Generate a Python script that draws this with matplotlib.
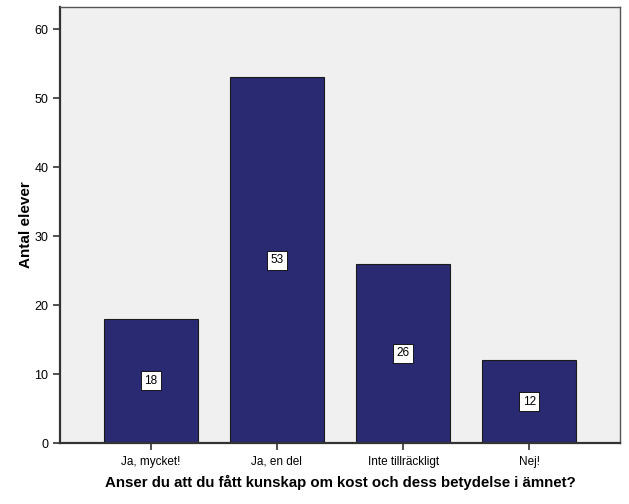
import matplotlib
matplotlib.use('Agg')
import matplotlib.pyplot as plt

plt.rcParams['font.family'] = ['Liberation Sans', 'DejaVu Sans']

categories = ['Ja, mycket!', 'Ja, en del', 'Inte tillräckligt', 'Nej!']
counts = [18, 53, 26, 12]
yticks = [0, 10, 20, 30, 40, 50, 60]

fig = plt.figure(figsize=(6.29, 5.04), dpi=100)
ax = fig.add_axes([60 / 629, 61 / 504, 560 / 629, 436 / 504])
ax.set_facecolor('#F0F0F0')

x = list(range(len(categories)))
ax.bar(x, counts, width=0.75, color='#292A72', edgecolor='#1a1a1a', linewidth=0.8, zorder=2)

# value labels in white boxes, middle of each bar
for xi, c in zip(x, counts):
    ax.text(xi, c / 2, str(c), ha='center', va='center', fontsize=8.5, color='black',
            bbox=dict(boxstyle='square,pad=0.3', fc='white', ec='black', lw=0.6), zorder=3)

ax.set_xlim(-0.72, 3.72)
ax.set_ylim(0, 63.2)
ax.set_xticks(x)
ax.set_xticklabels(categories, fontsize=8.5)
# baseline alignment so all category labels sit on one line
for lab in ax.get_xticklabels():
    lab.set_va('baseline')
ax.set_yticks(yticks)
ax.tick_params(axis='y', labelsize=9, length=5, width=1.2, color='#333333')
ax.tick_params(axis='x', length=5, width=1.2, color='#333333', pad=10.5)

for side in ['left', 'bottom']:
    ax.spines[side].set_linewidth(1.6)
    ax.spines[side].set_color('#333333')
for side in ['top', 'right']:
    ax.spines[side].set_linewidth(1.0)
    ax.spines[side].set_color('#555555')

ax.set_ylabel('Antal elever', fontsize=11, fontweight='bold', labelpad=1)
ax.set_xlabel('Anser du att du fått kunskap om kost och dess betydelse i ämnet?',
              fontsize=10.8, fontweight='bold', labelpad=5)

fig.savefig('out.png', dpi=100)
